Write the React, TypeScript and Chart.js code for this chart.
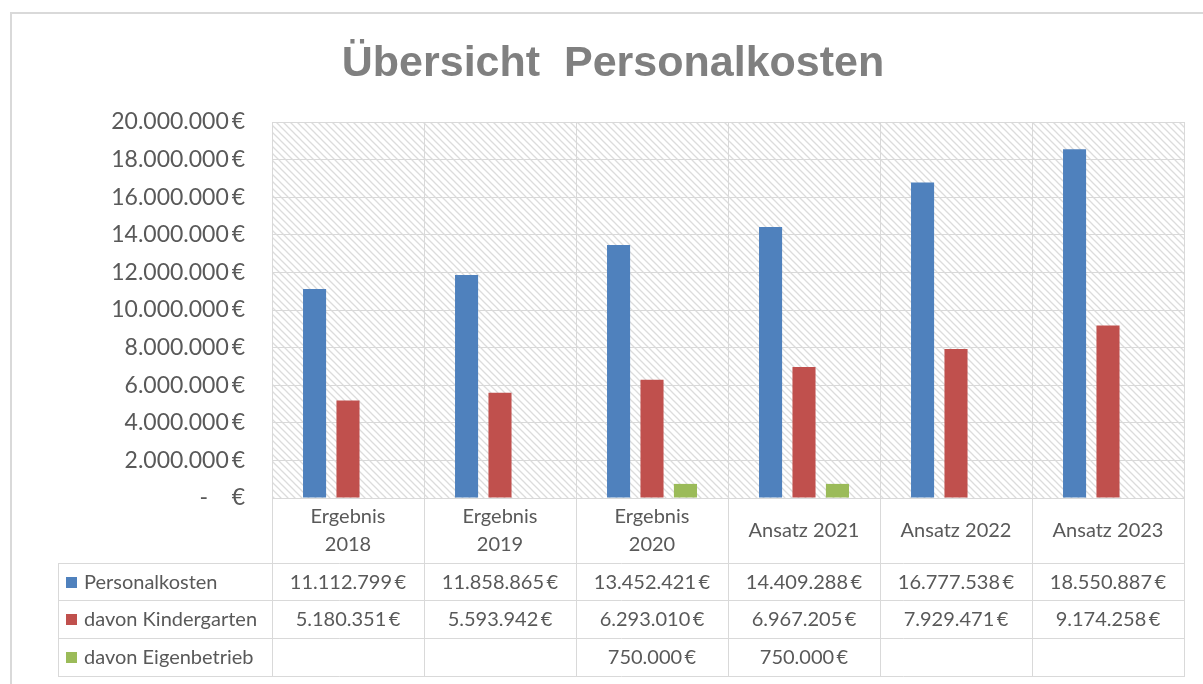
import React, { useEffect, useRef } from "react";
import { Chart, registerables } from "chart.js";

Chart.register(...registerables);

const categories: string[][] = [
  ["Ergebnis", "2018"],
  ["Ergebnis", "2019"],
  ["Ergebnis", "2020"],
  ["Ansatz 2021"],
  ["Ansatz 2022"],
  ["Ansatz 2023"],
];
const personalkosten = [11112799, 11858865, 13452421, 14409288, 16777538, 18550887];
const kindergarten = [5180351, 5593942, 6293010, 6967205, 7929471, 9174258];
const eigenbetrieb: (number | null)[] = [null, null, 750000, 750000, null, null];
const seriesNames = ["Personalkosten", "davon Kindergarten", "davon Eigenbetrieb"];
const seriesColors = ["#4f81bd", "#c0504d", "#9bbb59"];
const titleText = "Übersicht  Personalkosten";
const yMin = 0;
const yMax = 20000000;
const yStep = 2000000;

const FONT = "Lato";
const TEXT = "#595959";
const LINE = "#d9d9d9";

function fmt(v: number): string {
  if (v === 0) return "-    €";
  const s = Math.round(v).toString().replace(/\B(?=(\d{3})+(?!\d))/g, ".");
  return s + "\u2009€";
}

function makePattern(ctx: CanvasRenderingContext2D): CanvasPattern | string {
  const c = document.createElement("canvas");
  const n = 7;
  c.width = n;
  c.height = n;
  const g = c.getContext("2d");
  if (!g) return "#fff";
  g.fillStyle = "#ffffff";
  g.fillRect(0, 0, n, n);
  g.strokeStyle = "#dcdcdc";
  g.lineWidth = 1.3;
  g.beginPath();
  g.moveTo(-2, -2);
  g.lineTo(n + 2, n + 2);
  g.moveTo(-2, n - 2);
  g.lineTo(2, n + 2);
  g.moveTo(n - 2, -2);
  g.lineTo(n + 2, 2);
  g.stroke();
  return ctx.createPattern(c, "repeat") || "#fff";
}

const decorPlugin = {
  id: "decor",
  beforeDraw(chart: any) {
    const ctx: CanvasRenderingContext2D = chart.ctx;
    const a = chart.chartArea;
    ctx.save();
    ctx.fillStyle = "#ffffff";
    ctx.fillRect(0, 0, chart.width, chart.height);
    ctx.fillStyle = makePattern(ctx) as any;
    ctx.fillRect(a.left, a.top, a.right - a.left, a.bottom - a.top);
    ctx.restore();
  },
  afterDraw(chart: any) {
    const ctx: CanvasRenderingContext2D = chart.ctx;
    const a = chart.chartArea;
    const n = categories.length;
    const cw = (a.right - a.left) / n;
    const rows = [563, 600, 638, 676];
    const tableLeft = 58;
    ctx.save();
    // outer border
    ctx.strokeStyle = LINE;
    ctx.lineWidth = 2;
    ctx.beginPath();
    ctx.moveTo(11, chart.height + 5);
    ctx.lineTo(11, 13);
    ctx.lineTo(chart.width + 5, 13);
    ctx.stroke();

    // title
    ctx.fillStyle = "#808080";
    ctx.font = `bold 43px "Liberation Sans", Arial, sans-serif`;
    ctx.textAlign = "center";
    ctx.textBaseline = "alphabetic";
    ctx.fillText(titleText, 613, 76);

    // table lines
    ctx.strokeStyle = LINE;
    ctx.lineWidth = 1;
    ctx.beginPath();
    for (let i = 0; i <= n; i++) {
      const x = Math.round(a.left + i * cw) + 0.5;
      ctx.moveTo(x, a.bottom);
      ctx.lineTo(x, rows[rows.length - 1]);
    }
    ctx.moveTo(tableLeft + 0.5, rows[0]);
    ctx.lineTo(tableLeft + 0.5, rows[rows.length - 1]);
    for (const y of rows) {
      ctx.moveTo(tableLeft, y + 0.5);
      ctx.lineTo(a.right + 1, y + 0.5);
    }
    ctx.stroke();

    // category labels
    ctx.fillStyle = TEXT;
    ctx.font = `20px ${FONT}`;
    ctx.textAlign = "center";
    ctx.textBaseline = "middle";
    const headMid = (a.bottom + rows[0]) / 2;
    categories.forEach((lines, i) => {
      const cx = a.left + (i + 0.5) * cw;
      const lh = 28;
      lines.forEach((t, j) => {
        const y = headMid + (j - (lines.length - 1) / 2) * lh;
        ctx.fillText(t, cx, y);
      });
    });

    // rows
    const allData = [personalkosten, kindergarten, eigenbetrieb];
    allData.forEach((data, r) => {
      const yMid = (rows[r] + rows[r + 1]) / 2 + 1;
      ctx.fillStyle = seriesColors[r];
      ctx.fillRect(66, Math.round(yMid - 6), 11, 11);
      ctx.fillStyle = TEXT;
      ctx.textAlign = "left";
      ctx.fillText(seriesNames[r], 84, yMid);
      ctx.textAlign = "center";
      data.forEach((v, i) => {
        if (v === null || v === undefined) return;
        ctx.fillText(fmt(v), a.left + (i + 0.5) * cw, yMid);
      });
    });
    ctx.restore();
  },
};

export default function App() {
  const ref = useRef<HTMLCanvasElement>(null);
  useEffect(() => {
    if (!ref.current) return;
    const chart = new Chart(ref.current, {
      type: "bar",
      data: {
        labels: categories.map((c) => c.join(" ")),
        datasets: [
          { label: seriesNames[0], data: personalkosten, backgroundColor: seriesColors[0] },
          { label: seriesNames[1], data: kindergarten, backgroundColor: seriesColors[1] },
          { label: seriesNames[2], data: eigenbetrieb as any, backgroundColor: seriesColors[2] },
        ],
      },
      options: {
        responsive: false,
        animation: false,
        devicePixelRatio: 1,
        datasets: { bar: { barPercentage: 0.69, categoryPercentage: 0.66 } } as any,
        layout: { padding: { top: 122, right: 19, left: 0, bottom: 0 } },
        plugins: { legend: { display: false }, tooltip: { enabled: false }, title: { display: false } },
        scales: {
          x: {
            grid: { color: LINE, offset: true, drawTicks: false },
            border: { color: LINE },
            ticks: { display: false },
            afterFit: (s: any) => {
              s.height = 186;
            },
          },
          y: {
            min: yMin,
            max: yMax,
            grid: { color: LINE, drawTicks: false },
            border: { color: LINE },
            ticks: {
              stepSize: yStep,
              padding: 27,
              color: TEXT,
              font: { family: FONT, size: 23 },
              callback: (v: any) => fmt(Number(v)),
            },
            afterFit: (s: any) => {
              s.width = 272;
            },
          },
        },
      },
      plugins: [decorPlugin],
    });
    return () => chart.destroy();
  }, []);
  return (
    <div style={{ position: "fixed", left: 0, top: 0, width: 1203, height: 684, background: "#fff" }}>
      <canvas ref={ref} width={1203} height={684} style={{ display: "block" }} />
    </div>
  );
}
